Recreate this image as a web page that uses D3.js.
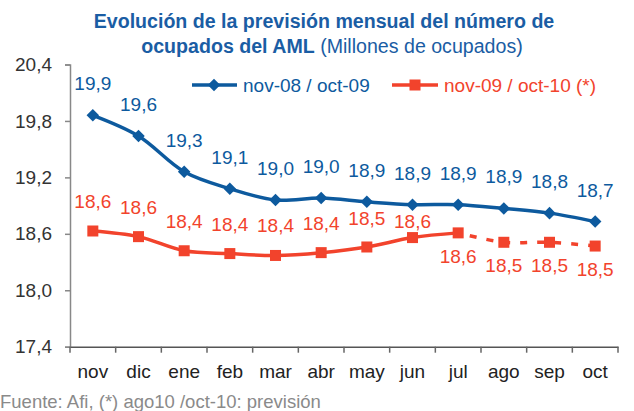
<!DOCTYPE html>
<html><head><meta charset="utf-8">
<script src="https://cdn.jsdelivr.net/npm/d3@7"></script>
<style>body{margin:0;background:#fff;}svg{display:block;font-family:"Liberation Sans",Arial,sans-serif;}</style>
</head><body><svg id="c" width="634" height="411"></svg>
<script>
const months = ["nov","dic","ene","feb","mar","abr","may","jun","jul","ago","sep","oct"];
const series1Name = "nov-08 / oct-09";
const series2Name = "nov-09 / oct-10 (*)";
const series1 = [19.86,19.64,19.26,19.08,18.96,18.98,18.94,18.91,18.91,18.87,18.82,18.73];
const series2 = [18.63,18.57,18.42,18.39,18.37,18.40,18.46,18.56,18.61,18.51,18.51,18.47];
const forecastStart = 8; // index from which series2 is a forecast (dashed)
const yTicks = [17.4,18.0,18.6,19.2,19.8,20.4];
const titleLine1 = "Evolución de la previsión mensual del número de";
const titleLine2Bold = "ocupados del AML";
const titleLine2Rest = " (Millones de ocupados)";
const footer = "Fuente: Afi, (*) ago10 /oct-10: previsión";

const BLUE="#0d5a9e", RED="#f2432c", TITLE="#1a5da4";
const FS=19;
const svg=d3.select("#c");
const m={l:70,r:16,t:64.5,b:64.3};
const W=634,H=411;
const x=d3.scaleBand().domain(months).range([m.l,W-m.r]).paddingInner(0).paddingOuter(0);
const y=d3.scaleLinear().domain([17.4,20.4]).range([H-m.b,m.t]);
const fmt=v=>d3.format(".1f")(v).replace(".",",");
const cx=i=>x(months[i])+x.bandwidth()/2;

// title
const t=svg.append("g").attr("fill",TITLE).attr("text-anchor","middle");
t.append("text").attr("x",324).attr("y",28).attr("font-size",19.6).attr("font-weight","bold").text(titleLine1);
const t2=t.append("text").attr("x",332).attr("y",53).attr("font-size",19.6);
t2.append("tspan").attr("font-weight","bold").text(titleLine2Bold);
t2.append("tspan").text(titleLine2Rest);

// y axis
const ya=svg.append("g").attr("transform",`translate(${m.l},0)`)
  .call(d3.axisLeft(y).tickValues(yTicks).tickSize(5).tickPadding(13).tickFormat(fmt));
ya.select(".domain").attr("stroke","#888").attr("stroke-width",1.5);
ya.selectAll(".tick line").attr("stroke","#888").attr("stroke-width",1.5);
ya.selectAll(".tick text").attr("font-size",FS).attr("fill","#333").attr("font-family","Liberation Sans, Arial, sans-serif");

// x axis
const xa=svg.append("g").attr("transform",`translate(0,${H-m.b})`)
  .call(d3.axisBottom(x).tickSize(0).tickPadding(18));
xa.select(".domain").attr("stroke","#555").attr("stroke-width",1.5);
xa.selectAll(".tick text").attr("font-size",FS).attr("fill","#222").attr("font-family","Liberation Sans, Arial, sans-serif");
const bounds=months.map(d=>x(d)).concat([x(months[months.length-1])+x.bandwidth()]);
svg.append("g").selectAll("line").data(bounds).join("line")
  .attr("x1",d=>d).attr("x2",d=>d).attr("y1",H-m.b).attr("y2",H-m.b+6)
  .attr("stroke","#666").attr("stroke-width",1.5);

// lines
const line=d3.line().x(d=>cx(d[0])).y(d=>y(d[1])).curve(d3.curveCatmullRom.alpha(0.5));
const s1=series1.map((v,i)=>[i,v]);
const s2=series2.map((v,i)=>[i,v]);
svg.append("path").attr("d",line(s1)).attr("fill","none").attr("stroke",BLUE).attr("stroke-width",3.5);
svg.append("path").attr("d",line(s2.slice(0,forecastStart+1))).attr("fill","none").attr("stroke",RED).attr("stroke-width",3.5);
svg.append("path").attr("d",line(s2.slice(forecastStart))).attr("fill","none").attr("stroke",RED).attr("stroke-width",3.5).attr("stroke-dasharray","7,10").attr("stroke-dashoffset",-12);

// markers
const diamond=d3.symbol().type(d3.symbolDiamond2).size(100);
svg.append("g").selectAll("path").data(s1).join("path")
  .attr("d",diamond).attr("transform",d=>`translate(${cx(d[0])},${y(d[1])})`).attr("fill",BLUE);
svg.append("g").selectAll("rect").data(s2).join("rect")
  .attr("x",d=>cx(d[0])-5.5).attr("y",d=>y(d[1])-5.5).attr("width",11).attr("height",11).attr("fill",RED);

// data labels
svg.append("g").selectAll("text").data(s1).join("text")
  .attr("x",d=>cx(d[0])).attr("y",d=>y(d[1])-25).attr("text-anchor","middle")
  .attr("font-size",FS).attr("fill",BLUE).text(d=>fmt(d[1]));
// red labels: above the point but kept clear of the blue line; below for forecast points
svg.append("g").selectAll("text").data(s2).join("text")
  .attr("x",d=>cx(d[0]))
  .attr("y",d=>d[0]<forecastStart ? Math.max(y(d[1])-23, y(series1[d[0]])+23) : y(d[1])+30)
  .attr("text-anchor","middle")
  .attr("font-size",FS).attr("fill",RED).text(d=>fmt(d[1]));

// legend
const lg=svg.append("g");
lg.append("line").attr("x1",192).attr("x2",237).attr("y1",85).attr("y2",85).attr("stroke",BLUE).attr("stroke-width",3.5);
lg.append("path").attr("d",diamond).attr("transform","translate(214,85)").attr("fill",BLUE);
lg.append("text").attr("x",243).attr("y",91.5).attr("font-size",FS).attr("fill",BLUE).text(series1Name);
lg.append("line").attr("x1",392).attr("x2",438).attr("y1",85).attr("y2",85).attr("stroke",RED).attr("stroke-width",3.5);
lg.append("rect").attr("x",409.5).attr("y",79.5).attr("width",11).attr("height",11).attr("fill",RED);
lg.append("text").attr("x",444).attr("y",91.5).attr("font-size",FS).attr("fill",RED).text(series2Name);

// footer
svg.append("text").attr("x",0).attr("y",408).attr("font-size",18.5).attr("fill","#8a8a8a").text(footer);
</script></body></html>
